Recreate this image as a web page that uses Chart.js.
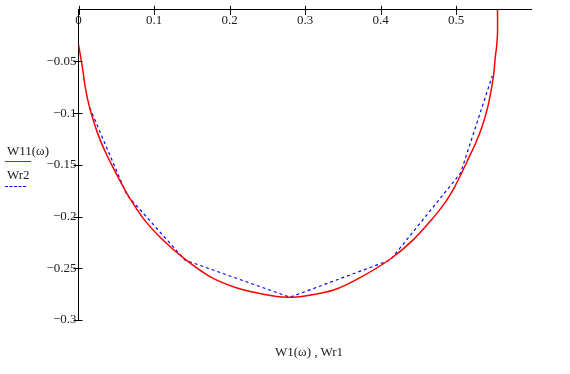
<!DOCTYPE html>
<html>
<head>
<meta charset="utf-8">
<script src="https://cdn.jsdelivr.net/npm/chart.js@4"></script>
<style>
  html, body { margin: 0; padding: 0; background: #fff; }
  #wrap { position: relative; width: 570px; height: 374px; font-family: "Liberation Serif", "DejaVu Serif", serif; color: #222; }
  #plot { position: absolute; left: 0; top: 0; }
  .lbl { position: absolute; font-size: 13px; line-height: 15px; white-space: nowrap; }
  .swatch { position: absolute; height: 0; }
</style>
</head>
<body>
<div id="wrap">
  <canvas id="plot" width="570" height="374"></canvas>
  <div id="legend"></div>
  <div class="lbl" id="xtitle" style="left:275px; top:344px;">W1(ω) , Wr1</div>
</div>
<script>
// W11(ω) curve
const redX = [0, 0.0037, 0.006, 0.009, 0.0127, 0.018, 0.0256, 0.035, 0.044, 0.054, 0.066, 0.086, 0.108, 0.139,
              0.174, 0.210, 0.245, 0.276, 0.302, 0.338, 0.373, 0.413, 0.444, 0.470, 0.486, 0.497, 0.508,
              0.517, 0.526, 0.534, 0.541, 0.546, 0.550, 0.552, 0.554, 0.555, 0.555];
const redY = [-0.0337, -0.049, -0.060, -0.075, -0.0885, -0.103, -0.120, -0.1365, -0.150, -0.164, -0.180, -0.202,
              -0.220, -0.240, -0.258, -0.269, -0.275, -0.278, -0.2765, -0.271, -0.259, -0.241, -0.222, -0.201,
              -0.186, -0.173, -0.157, -0.143, -0.129, -0.114, -0.097, -0.080, -0.062, -0.046, -0.034, -0.022, 0];

// Wr1 / Wr2 polyline
const blueX = [0.015, 0.064, 0.141, 0.280, 0.413, 0.506, 0.548];
const blueY = [-0.095, -0.179, -0.242, -0.278, -0.242, -0.158, -0.064];

const xTicks = [0, 0.1, 0.2, 0.3, 0.4, 0.5];
const xTickLabels = ['0', '0.1', '0.2', '0.3', '0.4', '0.5'];
const yTicks = [-0.05, -0.1, -0.15, -0.2, -0.25, -0.3];
const yTickLabels = ['\u22120.05', '\u22120.1', '\u22120.15', '\u22120.2', '\u22120.25', '\u22120.3'];

const toPoints = (xs, ys) => xs.map((x, i) => ({ x: x, y: ys[i] }));

// tick marks that cross the axis lines, like the original
const crossTicks = {
    id: 'crossTicks',
    afterDraw(chart) {
        const { ctx, chartArea, scales } = chart;
        ctx.save();
        ctx.strokeStyle = '#000';
        ctx.lineWidth = 1;
        ctx.beginPath();
        xTicks.forEach(v => {
            const px = Math.round(scales.x.getPixelForValue(v)) + 0.5;
            ctx.moveTo(px, chartArea.top - 4);
            ctx.lineTo(px, chartArea.top + 5);
        });
        yTicks.forEach(v => {
            const py = Math.round(scales.y.getPixelForValue(v)) + 0.5;
            ctx.moveTo(chartArea.left - 5, py);
            ctx.lineTo(chartArea.left + 4, py);
        });
        ctx.stroke();
        ctx.restore();
    }
};

const datasets = [
    {
        label: 'W11(\u03c9)',
        data: toPoints(redX, redY),
        borderColor: '#ff0000',
        borderWidth: 1.5,
        showLine: true,
        pointRadius: 0,
        tension: 0.3
    },
    {
        label: 'Wr2',
        data: toPoints(blueX, blueY),
        borderColor: '#0000ff',
        borderWidth: 1.2,
        borderDash: [3, 3],
        showLine: true,
        pointRadius: 0,
        tension: 0
    }
];

const ctx = document.getElementById('plot').getContext('2d');
const chart = new Chart(ctx, {
    type: 'scatter',
    data: { datasets: datasets },
    options: {
        responsive: false,
        animation: false,
        events: [],
        layout: { padding: { left: 0, top: 0, right: 38.5, bottom: 54 } },
        plugins: { legend: { display: false }, tooltip: { enabled: false } },
        scales: {
            x: {
                type: 'linear',
                position: 'top',
                min: 0,
                max: 0.6,
                afterBuildTicks: s => { s.ticks = xTicks.map(v => ({ value: v })); },
                afterFit: s => { s.height = 8; },
                grid: { display: false, drawTicks: false },
                border: { display: true, color: '#000', width: 1 },
                ticks: {
                    mirror: true,
                    padding: 3,
                    color: '#222',
                    font: { family: 'Liberation Serif', size: 13 },
                    maxRotation: 0,
                    autoSkip: false,
                    callback: v => xTickLabels[xTicks.indexOf(v)]
                }
            },
            y: {
                type: 'linear',
                position: 'left',
                min: -0.3,
                max: 0,
                afterBuildTicks: s => { s.ticks = yTicks.map(v => ({ value: v })); },
                afterFit: s => { s.width = 78.5; },
                grid: { display: false, drawTicks: false },
                border: { display: true, color: '#000', width: 1 },
                ticks: {
                    padding: 2,
                    color: '#222',
                    font: { family: 'Liberation Serif', size: 13 },
                    autoSkip: false,
                    callback: v => yTickLabels[yTicks.indexOf(v)]
                }
            }
        }
    },
    plugins: [crossTicks]
});

// legend: name above a short sample of the line
const legendEl = document.getElementById('legend');
const legendRows = [
    { top: 143, lineTop: 161, width: 26 },
    { top: 167, lineTop: 186, width: 21 }
];
datasets.forEach((ds, i) => {
    const row = legendRows[i];
    const txt = document.createElement('div');
    txt.className = 'lbl';
    txt.style.left = '7px';
    txt.style.top = row.top + 'px';
    txt.textContent = ds.label;
    legendEl.appendChild(txt);
    const sw = document.createElement('div');
    sw.className = 'swatch';
    sw.style.left = '5px';
    sw.style.top = row.lineTop + 'px';
    sw.style.width = row.width + 'px';
    sw.style.borderTop = (ds.borderDash ? '1px dashed ' : '1px solid ') + ds.borderColor;
    legendEl.appendChild(sw);
});
</script>
</body>
</html>
